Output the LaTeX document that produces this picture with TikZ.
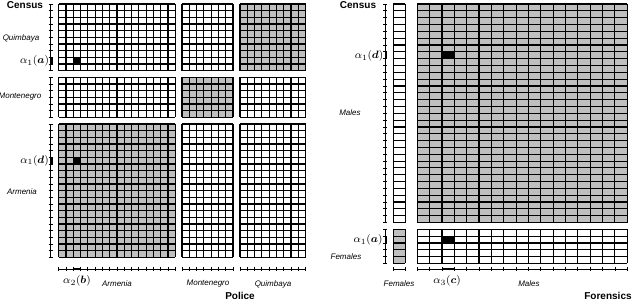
\documentclass[tikz,border=0pt]{standalone}
\usepackage{fontspec}
\usepackage{amsmath}
\usepackage{bm}
\setmainfont{Liberation Sans}
\definecolor{cellgray}{HTML}{BFBFBF}
\tikzset{
 gl/.style={line width=0.85pt, black},
 ax/.style={line width=0.6pt, black},
 sel/.style={line width=1.8pt, black},
 lab/.style={font=\fontsize{6}{7}\selectfont\itshape, inner sep=0pt},
 ttl/.style={font=\fontsize{7.5}{9}\selectfont\bfseries, inner sep=0pt},
 alab/.style={font=\fontsize{8.5}{10}\selectfont, inner sep=0pt},
}
\newcommand{\cgrid}[7]{% x0,y0,nc,nr,cw,rh,fill
 \fill[#7] (#1,#2) rectangle ({#1+#3*#5},{#2+#4*#6});
 \foreach \i in {0,...,#3}{\draw[gl] ({#1+\i*#5},#2) -- ({#1+\i*#5},{#2+#4*#6});}
 \foreach \j in {0,...,#4}{\draw[gl] (#1,{#2+\j*#6}) -- ({#1+#3*#5},{#2+\j*#6});}
}
\newcommand{\vax}[4]{% x, y0, nr, rh
 \draw[ax] (#1,#2) -- (#1,{#2+#3*#4});
 \foreach \j in {0,...,#3}{\draw[ax] ({#1-2},{#2+\j*#4}) -- ({#1+2},{#2+\j*#4});}
}
\newcommand{\hax}[4]{% y, x0, nc, cw
 \draw[ax] (#2,#1) -- ({#2+#3*#4},#1);
 \foreach \i in {0,...,#3}{\draw[ax] ({#2+\i*#4},{#1-2}) -- ({#2+\i*#4},{#1+2});}
}
\begin{document}
\begin{tikzpicture}[x=0.75pt,y=-0.75pt]
\useasboundingbox[fill=white] (0,0) rectangle (640,302);
% ---------- left panel ----------
\cgrid{58.7}{4}{16}{10}{7.29}{6.67}{white}
\cgrid{182}{4}{7}{10}{7.29}{6.67}{white}
\cgrid{240}{4}{9}{10}{7.29}{6.67}{cellgray}
\cgrid{58.7}{77.3}{16}{6}{7.29}{6.67}{white}
\cgrid{182}{77.3}{7}{6}{7.29}{6.67}{cellgray}
\cgrid{240}{77.3}{9}{6}{7.29}{6.67}{white}
\cgrid{58.7}{124}{16}{20}{7.29}{6.67}{cellgray}
\cgrid{182}{124}{7}{20}{7.29}{6.67}{white}
\cgrid{240}{124}{9}{20}{7.29}{6.67}{white}
\fill (73.28,57.36) rectangle ++(7.29,6.67);
\fill (73.28,157.35) rectangle ++(7.29,6.67);
\vax{50.7}{4}{10}{6.67}
\vax{50.7}{77.3}{6}{6.67}
\vax{50.7}{124}{20}{6.67}
\draw[sel] (51.3,57.36) -- ++(0,6.67);
\draw[sel] (51.3,157.35) -- ++(0,6.67);
\hax{269}{58.7}{16}{7.29}
\hax{269}{182}{7}{7.29}
\hax{269}{240}{9}{7.29}
\draw[sel] (73.28,269) -- ++(7.29,0);
\node[ttl] (c1) at (25,5) {Census};
\node[lab] (q1) at (21,38) {Quimbaya};
\node[lab] (m1) at (20,97) {Montenegro};
\node[lab] (a1) at (22,192) {Armenia};
\node[alab] (al1) at (34.5,61) {$\alpha_1(\bm{a})$};
\node[alab] (al2) at (34.5,160.7) {$\alpha_1(\bm{d})$};
\node[alab] (al3) at (77,281) {$\alpha_2(\bm{b})$};
\node[lab] (a2) at (117,284) {Armenia};
\node[lab] (m2) at (208,284) {Montenegro};
\node[lab] (q2) at (273,284) {Quimbaya};
\node[ttl] (p) at (240,296) {Police};
% ---------- right panel ----------
\cgrid{393.3}{4}{1}{32}{12}{6.83}{white}
\cgrid{417.3}{4}{17}{32}{12.35}{6.83}{cellgray}
\cgrid{393.3}{229.3}{1}{5}{12}{6.83}{cellgray}
\cgrid{417.3}{229.3}{17}{5}{12.35}{6.83}{white}
\fill (442,51.81) rectangle ++(12.35,6.83);
\fill (442,236.13) rectangle ++(12.35,6.83);
\vax{385.3}{4}{32}{6.83}
\vax{385.3}{229.3}{5}{6.83}
\draw[sel] (385.9,51.81) -- ++(0,6.83);
\draw[sel] (385.9,236.13) -- ++(0,6.83);
\hax{269}{393.3}{1}{12}
\hax{269}{417.3}{17}{12.35}
\draw[sel] (442,269) -- ++(12.35,0);
\node[ttl] (c2) at (358,5) {Census};
\node[lab] (m3) at (350,113) {Males};
\node[lab] (f1) at (346,257) {Females};
\node[alab] (al4) at (369,56) {$\alpha_1(\bm{d})$};
\node[alab] (al5) at (368,240) {$\alpha_1(\bm{a})$};
\node[lab] (f2) at (399,284) {Females};
\node[alab] (al6) at (447,281) {$\alpha_3(\bm{c})$};
\node[lab] (m4) at (529,284) {Males};
\node[ttl] (fo) at (608,296) {Forensics};
\end{tikzpicture}
\end{document}
